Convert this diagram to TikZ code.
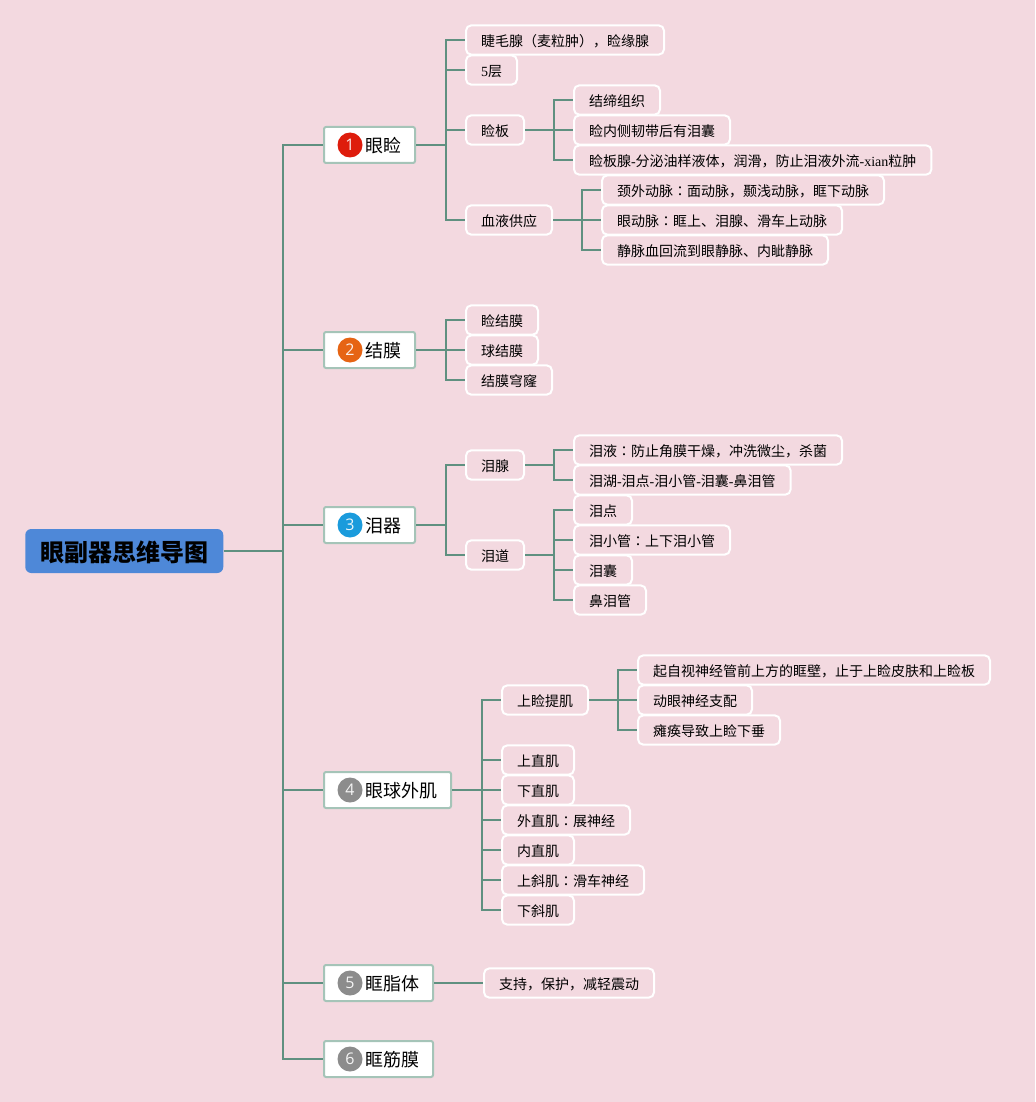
\documentclass[tikz,border=0pt]{standalone}
\usepackage{fontspec}
\setmainfont{Liberation Serif}
\newfontfamily\cjk{Noto Sans CJK SC}
\newfontfamily\cjktc{Noto Sans CJK TC}
\newfontfamily\digitfont{Open Sans}
\usetikzlibrary{positioning}

\definecolor{pagebg}{RGB}{243,217,224}
\definecolor{rootblue}{RGB}{78,136,216}
\definecolor{branchgreen}{RGB}{95,144,128}
\definecolor{mainedge}{RGB}{165,196,184}
\definecolor{badgered}{RGB}{222,28,12}
\definecolor{badgeorange}{RGB}{230,100,20}
\definecolor{badgeblue}{RGB}{26,155,220}
\definecolor{badgegray}{RGB}{140,140,140}

\newcommand{\fwc}{{\cjktc ：}}
\newcommand{\lat}[1]{{\rmfamily #1}}

\tikzset{
    rootnode/.style={draw=none, fill=rootblue, rounded corners=4.5pt, anchor=west,
        minimum height=33pt, inner xsep=11.25pt, inner ysep=0pt, text height=17pt, text depth=1.12pt,
        font=\cjk\bfseries\fontsize{18}{20}\selectfont},
    mainnode/.style={draw=mainedge, line width=1.5pt, fill=white, rounded corners=1.5pt, anchor=west,
        minimum height=27pt, inner xsep=10.5pt, inner ysep=0pt, text height=12.5pt, text depth=0.74pt,
        font=\cjk\fontsize{13.5}{16}\selectfont},
    subnode/.style={draw=white, line width=1.5pt, rounded corners=4pt, anchor=west, xshift=-0.75pt,
        minimum height=22pt, inner xsep=11.25pt, inner ysep=0pt, text height=10pt, text depth=0.5pt,
        font=\cjk\fontsize{10.5}{13}\selectfont},
    badge/.style={circle, fill=#1, text=white!90!#1, minimum size=18.75pt, inner sep=0pt,
        font=\digitfont\fontsize{12}{12}\selectfont},
    branch/.style={draw=branchgreen, line width=1.6pt}
}

\begin{document}
\begin{tikzpicture}[x=0.75pt, y=-0.75pt]
    % Page
    \fill[pagebg] (0,0) rectangle (1035,1102);
    \useasboundingbox (0,0) rectangle (1035,1102);

    % Root and main topics
    \node[rootnode] (root) at (25,551) {眼副器思维导图};
    \node[mainnode] (lid) at (323,145) {\hspace*{20.25pt}眼睑};
    \node[mainnode] (conj) at (323,350) {\hspace*{20.25pt}结膜};
    \node[mainnode] (lacrimal) at (323,525) {\hspace*{20.25pt}泪器};
    \node[mainnode] (muscle) at (323,790) {\hspace*{20.25pt}眼球外肌};
    \node[mainnode] (fat) at (323,983) {\hspace*{20.25pt}眶脂体};
    \node[mainnode] (fascia) at (323,1059) {\hspace*{20.25pt}眶筋膜};

    % Badges
    \node[badge=badgered] (badgea) at (350,145) {1};
    \node[badge=badgeorange] (badgeb) at (350,350) {2};
    \node[badge=badgeblue] (badgec) at (350,525) {3};
    \node[badge=badgegray] (badged) at (350,790) {4};
    \node[badge=badgegray] (badgee) at (350,983) {5};
    \node[badge=badgegray] (badgef) at (350,1059) {6};

    % Eyelid
    \node[subnode] (lash) at (466,40) {睫毛腺（麦粒肿），睑缘腺};
    \node[subnode] (layers) at (466,70) {\lat{5}层};
    \node[subnode] (tarsus) at (466,130) {睑板};
    \node[subnode] (tissue) at (574,100) {结缔组织};
    \node[subnode] (ligament) at (574,130) {睑内侧韧带后有泪囊};
    \node[subnode] (gland) at (574,160) {睑板腺\lat{-}分泌油样液体，润滑，防止泪液外流\lat{-xian}粒肿};
    \node[subnode] (blood) at (466,220) {血液供应};
    \node[subnode] (carotid) at (602,190) {颈外动脉\fwc 面动脉，颞浅动脉，眶下动脉};
    \node[subnode] (ophth) at (602,220) {眼动脉\fwc 眶上、泪腺、滑车上动脉};
    \node[subnode] (vein) at (602,250) {静脉血回流到眼静脉、内眦静脉};

    % Conjunctiva
    \node[subnode] (palpebral) at (466,320) {睑结膜};
    \node[subnode] (bulbar) at (466,350) {球结膜};
    \node[subnode] (fornix) at (466,380) {结膜穹窿};

    % Lacrimal apparatus
    \node[subnode] (lgland) at (466,465) {泪腺};
    \node[subnode] (tears) at (574,450) {泪液\fwc 防止角膜干燥，冲洗微尘，杀菌};
    \node[subnode] (route) at (574,480) {泪湖\lat{-}泪点\lat{-}泪小管\lat{-}泪囊\lat{-}鼻泪管};
    \node[subnode] (duct) at (466,555) {泪道};
    \node[subnode] (punctum) at (574,510) {泪点};
    \node[subnode] (canal) at (574,540) {泪小管\fwc 上下泪小管};
    \node[subnode] (sac) at (574,570) {泪囊};
    \node[subnode] (nasal) at (574,600) {鼻泪管};

    % Extraocular muscles
    \node[subnode] (levator) at (502,700) {上睑提肌};
    \node[subnode] (origin) at (638,670) {起自视神经管前上方的眶壁，止于上睑皮肤和上睑板};
    \node[subnode] (nerve) at (638,700) {动眼神经支配};
    \node[subnode] (ptosis) at (638,730) {瘫痪导致上睑下垂};
    \node[subnode] (superior) at (502,760) {上直肌};
    \node[subnode] (inferior) at (502,790) {下直肌};
    \node[subnode] (lateral) at (502,820) {外直肌\fwc 展神经};
    \node[subnode] (medial) at (502,850) {内直肌};
    \node[subnode] (soblique) at (502,880) {上斜肌\fwc 滑车神经};
    \node[subnode] (ioblique) at (502,910) {下斜肌};

    % Orbital fat
    \node[subnode] (support) at (484,983) {支持，保护，减轻震动};

    % Bus points
    \coordinate (trunk) at (283,551);
    \coordinate (lidbus) at (446,145);
    \coordinate (tarsusbus) at (554,130);
    \coordinate (bloodbus) at (582,220);
    \coordinate (conjbus) at (446,350);
    \coordinate (lacrimalbus) at (446,525);
    \coordinate (lglandbus) at (554,465);
    \coordinate (ductbus) at (554,555);
    \coordinate (musclebus) at (482,790);
    \coordinate (levatorbus) at (618,700);

    % Connectors
    \draw[branch] (root) -- (trunk);
    \draw[branch] (trunk) |- (lid);
    \draw[branch] (trunk) |- (conj);
    \draw[branch] (trunk) |- (lacrimal);
    \draw[branch] (trunk) |- (muscle);
    \draw[branch] (trunk) |- (fat);
    \draw[branch] (trunk) |- (fascia);

    \draw[branch] (lid) -- (lidbus);
    \draw[branch] (lidbus) |- (lash);
    \draw[branch] (lidbus) |- (layers);
    \draw[branch] (lidbus) |- (tarsus);
    \draw[branch] (lidbus) |- (blood);
    \draw[branch] (tarsus) -- (tarsusbus);
    \draw[branch] (tarsusbus) |- (tissue);
    \draw[branch] (tarsusbus) |- (ligament);
    \draw[branch] (tarsusbus) |- (gland);
    \draw[branch] (blood) -- (bloodbus);
    \draw[branch] (bloodbus) |- (carotid);
    \draw[branch] (bloodbus) |- (ophth);
    \draw[branch] (bloodbus) |- (vein);

    \draw[branch] (conj) -- (conjbus);
    \draw[branch] (conjbus) |- (palpebral);
    \draw[branch] (conjbus) |- (bulbar);
    \draw[branch] (conjbus) |- (fornix);

    \draw[branch] (lacrimal) -- (lacrimalbus);
    \draw[branch] (lacrimalbus) |- (lgland);
    \draw[branch] (lacrimalbus) |- (duct);
    \draw[branch] (lgland) -- (lglandbus);
    \draw[branch] (lglandbus) |- (tears);
    \draw[branch] (lglandbus) |- (route);
    \draw[branch] (duct) -- (ductbus);
    \draw[branch] (ductbus) |- (punctum);
    \draw[branch] (ductbus) |- (canal);
    \draw[branch] (ductbus) |- (sac);
    \draw[branch] (ductbus) |- (nasal);

    \draw[branch] (muscle) -- (musclebus);
    \draw[branch] (musclebus) |- (levator);
    \draw[branch] (musclebus) |- (superior);
    \draw[branch] (musclebus) |- (inferior);
    \draw[branch] (musclebus) |- (lateral);
    \draw[branch] (musclebus) |- (medial);
    \draw[branch] (musclebus) |- (soblique);
    \draw[branch] (musclebus) |- (ioblique);
    \draw[branch] (levator) -- (levatorbus);
    \draw[branch] (levatorbus) |- (origin);
    \draw[branch] (levatorbus) |- (nerve);
    \draw[branch] (levatorbus) |- (ptosis);

    \draw[branch] (fat) -- (support);
\end{tikzpicture}
\end{document}
